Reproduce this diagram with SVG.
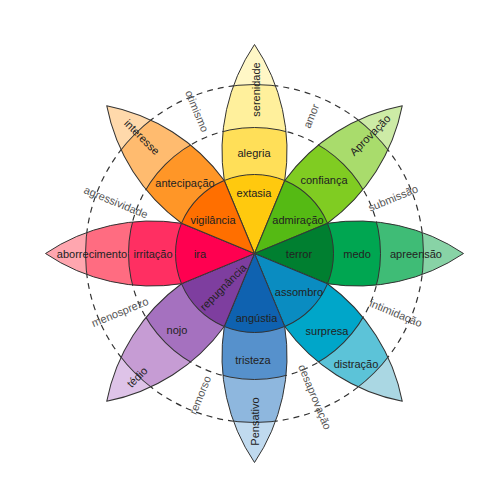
<svg xmlns="http://www.w3.org/2000/svg" xmlns:xlink="http://www.w3.org/1999/xlink" width="500" height="500" viewBox="0 0 500 500">
<style>
.ring{stroke:#333;stroke-width:1}
.outline{fill:none;stroke:#333;stroke-width:1;stroke-linejoin:round}
.dash{fill:none;stroke:#333;stroke-width:1.2;stroke-dasharray:6 5}
.lbl{font-family:"Liberation Sans",Arial,sans-serif;font-size:11px;fill:#222;text-anchor:middle}
.dy{font-family:"Liberation Sans",Arial,sans-serif;font-size:11px;fill:#555;text-anchor:middle}
</style>
<defs>
<path id="petal" d="M0,0 L-30.2,-73 A190.6,190.6 0 0 1 0,-209 A190.6,190.6 0 0 1 30.2,-73 Z"/>
<clipPath id="pc" clipPathUnits="userSpaceOnUse"><use xlink:href="#petal" href="#petal"/></clipPath>
</defs>
<rect width="500" height="500" fill="#fff"/>
<g id="dyad-rings">
<circle class="dash" cx="254.5" cy="253.5" r="126"/>
<circle class="dash" cx="254.5" cy="253.5" r="169"/>
</g>

<g id="petal-alegria" transform="translate(254.5,253.5) rotate(0)">
<g clip-path="url(#pc)"><circle r="209" fill="#FFF7C6"/><circle class="ring" r="169" fill="#FFF09C"/><circle class="ring" r="126" fill="#FFDF58"/><circle class="ring" r="79" fill="#FFC90E"/></g>
<use class="outline" xlink:href="#petal" href="#petal"/>
</g>
<g id="petal-confianca" transform="translate(254.5,253.5) rotate(45)">
<g clip-path="url(#pc)"><circle r="209" fill="#CDEBA6"/><circle class="ring" r="169" fill="#A9DC6C"/><circle class="ring" r="126" fill="#80CC22"/><circle class="ring" r="79" fill="#55BA14"/></g>
<use class="outline" xlink:href="#petal" href="#petal"/>
</g>
<g id="petal-medo" transform="translate(254.5,253.5) rotate(90)">
<g clip-path="url(#pc)"><circle r="209" fill="#88D3A6"/><circle class="ring" r="169" fill="#3FBC76"/><circle class="ring" r="126" fill="#00A651"/><circle class="ring" r="79" fill="#007F30"/></g>
<use class="outline" xlink:href="#petal" href="#petal"/>
</g>
<g id="petal-surpresa" transform="translate(254.5,253.5) rotate(135)">
<g clip-path="url(#pc)"><circle r="209" fill="#AAD7E3"/><circle class="ring" r="169" fill="#5CC3D8"/><circle class="ring" r="126" fill="#00A6C9"/><circle class="ring" r="79" fill="#0A8CC1"/></g>
<use class="outline" xlink:href="#petal" href="#petal"/>
</g>
<g id="petal-tristeza" transform="translate(254.5,253.5) rotate(180)">
<g clip-path="url(#pc)"><circle r="209" fill="#C0DAEF"/><circle class="ring" r="169" fill="#8EB7DE"/><circle class="ring" r="126" fill="#5691CC"/><circle class="ring" r="79" fill="#0F62B0"/></g>
<use class="outline" xlink:href="#petal" href="#petal"/>
</g>
<g id="petal-nojo" transform="translate(254.5,253.5) rotate(225)">
<g clip-path="url(#pc)"><circle r="209" fill="#DEC3E8"/><circle class="ring" r="169" fill="#C69CD4"/><circle class="ring" r="126" fill="#A571BF"/><circle class="ring" r="79" fill="#7E3E9F"/></g>
<use class="outline" xlink:href="#petal" href="#petal"/>
</g>
<g id="petal-raiva" transform="translate(254.5,253.5) rotate(270)">
<g clip-path="url(#pc)"><circle r="209" fill="#FFA6AF"/><circle class="ring" r="169" fill="#FF6C81"/><circle class="ring" r="126" fill="#FF2F62"/><circle class="ring" r="79" fill="#FF0050"/></g>
<use class="outline" xlink:href="#petal" href="#petal"/>
</g>
<g id="petal-antecipacao" transform="translate(254.5,253.5) rotate(315)">
<g clip-path="url(#pc)"><circle r="209" fill="#FFD9AB"/><circle class="ring" r="169" fill="#FFBB6F"/><circle class="ring" r="126" fill="#FF9627"/><circle class="ring" r="79" fill="#FF6F00"/></g>
<use class="outline" xlink:href="#petal" href="#petal"/>
</g>

<g id="petal-labels">
<text class="lbl" transform="translate(256,89.5) rotate(-90)" y="4">serenidade</text>
<text class="lbl" x="254" y="157">alegria</text>
<text class="lbl" x="254" y="197">extasia</text>
<text class="lbl" transform="translate(370,135) rotate(-45)" y="4">Aprovação</text>
<text class="lbl" x="324" y="183.5">confiança</text>
<text class="lbl" x="298" y="223.5">admiração</text>
<text class="lbl" x="299" y="258">terror</text>
<text class="lbl" x="357" y="258">medo</text>
<text class="lbl" x="416" y="258">apreensão</text>
<text class="lbl" x="299" y="296">assombro</text>
<text class="lbl" x="327" y="335">surpresa</text>
<text class="lbl" x="356" y="368">distração</text>
<text class="lbl" x="256.5" y="322">angústia</text>
<text class="lbl" x="253" y="363.5">tristeza</text>
<text class="lbl" transform="translate(255,421.5) rotate(-90)" y="4">Pensativo</text>
<text class="lbl" transform="translate(223,287) rotate(-45)" y="4">repugnância</text>
<text class="lbl" x="177" y="334">nojo</text>
<text class="lbl" transform="translate(137,377) rotate(-45)" y="4">tédio</text>
<text class="lbl" x="92" y="257.5">aborrecimento</text>
<text class="lbl" x="153" y="257.5">irritação</text>
<text class="lbl" x="200" y="257.5">ira</text>
<text class="lbl" transform="translate(142,137) rotate(45)" y="4">interesse</text>
<text class="lbl" x="185" y="187">antecipação</text>
<text class="lbl" x="213" y="224">vigilância</text>
</g>

<g id="dyad-labels">
<text class="dy" transform="translate(197,111) rotate(67.5)" y="4">otimismo</text>
<text class="dy" transform="translate(311,116) rotate(-67.5)" y="4">amor</text>
<text class="dy" transform="translate(393,198) rotate(-22.5)" y="4">submissão</text>
<text class="dy" transform="translate(396,313) rotate(22.5)" y="4">intimidação</text>
<text class="dy" transform="translate(315,397) rotate(67.5)" y="4">desaprovação</text>
<text class="dy" transform="translate(200,395) rotate(-67.5)" y="4">remorso</text>
<text class="dy" transform="translate(120,312) rotate(-22.5)" y="4">menosprezo</text>
<text class="dy" transform="translate(116,202) rotate(22.5)" y="4">agressividade</text>
</g>
</svg>
